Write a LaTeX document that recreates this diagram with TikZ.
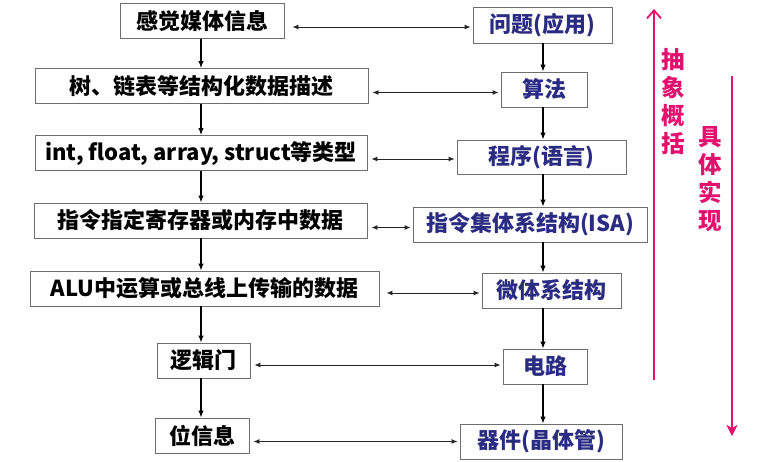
\documentclass[tikz,border=0pt]{standalone}
\usepackage{fontspec}
\setmainfont{Noto Sans CJK SC}
\usetikzlibrary{arrows.meta}

\definecolor{boxline}{RGB}{110,110,110}
\definecolor{navy}{RGB}{42,44,130}
\definecolor{accent}{RGB}{228,16,110}

\tikzset{
  box/.style={draw=boxline, line width=0.9pt, minimum height=35pt, inner sep=0pt,
    font=\bfseries\fontsize{22}{26}\selectfont, anchor=center},
  lbox/.style={box, text=black},
  rbox/.style={box, text=navy},
  downlink/.style={-{Latex[length=7pt,width=5.5pt]}, line width=1.2pt, black},
  link/.style={{Latex[length=6pt,width=5pt]}-{Latex[length=6pt,width=5pt]},
    line width=0.9pt, black!85, shorten <=4pt, shorten >=2pt},
  trend/.style={accent, line width=1.8pt},
  vlabel/.style={text=accent, font=\bfseries\fontsize{23.5}{28}\selectfont,
    align=center, inner sep=0pt}
}

\begin{document}
\begin{tikzpicture}[x=1pt,y=-1pt]
  \useasboundingbox (0,0) rectangle (760,462);

  % column axes for the vertical flow arrows
  \coordinate (lcol) at (201,0);
  \coordinate (rcol) at (543,0);

  % data representation at each level
  \node[lbox, minimum width=164pt] (L1) at (202,21)    {感觉媒体信息};
  \node[lbox, minimum width=333pt] (L2) at (201.5,86)  {树、链表等结构化数据描述};
  \node[lbox, minimum width=332pt] (L3) at (201,153)   {int, float, array, struct等类型};
  \node[lbox, minimum width=333pt] (L4) at (200.5,220.5) {指令指定寄存器或内存中数据};
  \node[lbox, minimum width=349pt] (L5) at (204.5,288.5) {ALU中运算或总线上传输的数据};
  \node[lbox, minimum width=93pt]  (L6) at (203.5,360.5) {逻辑门};
  \node[lbox, minimum width=94pt]  (L7) at (202,435.5) {位信息};

  % abstraction levels of the system
  \node[rbox, minimum width=139pt, minimum height=36pt] (R1) at (542.5,25) {问题(应用)};
  \node[rbox, minimum width=86pt]  (R2) at (544,89.5)  {算法};
  \node[rbox, minimum width=169pt, minimum height=34pt] (R3) at (541.5,157) {程序(语言)};
  \node[rbox, minimum width=234pt] (R4) at (530,224.5) {指令集体系结构(ISA)};
  \node[rbox, minimum width=139pt] (R5) at (551.5,290.5) {微体系结构};
  \node[rbox, minimum width=84pt]  (R6) at (545,366.5) {电路};
  \node[rbox, minimum width=162pt] (R7) at (541,441.5) {器件(晶体管)};

  % top-down flow in each column
  \foreach \a/\b in {1/2,2/3,3/4,4/5,5/6,6/7}{
    \draw[downlink] (L\a.south -| lcol) -- (L\b.north -| lcol);
    \draw[downlink] (R\a.south -| rcol) -- (R\b.north -| rcol);
  }

  % correspondence between the two columns
  \draw[link, shorten <=8pt] ([yshift=-2pt]R1.west -| L1.east) -- ([yshift=-2pt]R1.west);
  \draw[link] ([yshift=-3pt]R2.west -| L2.east) -- ([yshift=-3pt]R2.west);
  \draw[link] ([yshift=-2pt]R3.west -| L3.east) -- ([yshift=-2pt]R3.west);
  \draw[link] ([yshift=-3pt]R4.west -| L4.east) -- ([yshift=-3pt]R4.west);
  \draw[link, shorten <=7pt] ([yshift=-2.5pt]R5.west -| L5.east) -- ([yshift=-2.5pt]R5.west);
  \draw[link] ([yshift=1.5pt]R6.west -| L6.east) -- ([yshift=1.5pt]R6.west);
  \draw[link] (R7.west -| L7.east) -- (R7.west);

  % abstraction / implementation directions
  \coordinate (upfoot) at (654,380);
  \coordinate (uphead) at (654,9);
  \draw[trend, -{Straight Barb[length=8pt,width=14pt]}] (upfoot) -- (uphead);
  \node[vlabel] (abs) at (673,102) {抽\\象\\概\\括};

  \coordinate (downfoot) at (732,76);
  \coordinate (downhead) at (732,436);
  \draw[trend, -{Stealth[length=11pt,width=11pt,inset=3pt]}] (downfoot) -- (downhead);
  \node[vlabel] (impl) at (710,179) {具\\体\\实\\现};
\end{tikzpicture}
\end{document}
